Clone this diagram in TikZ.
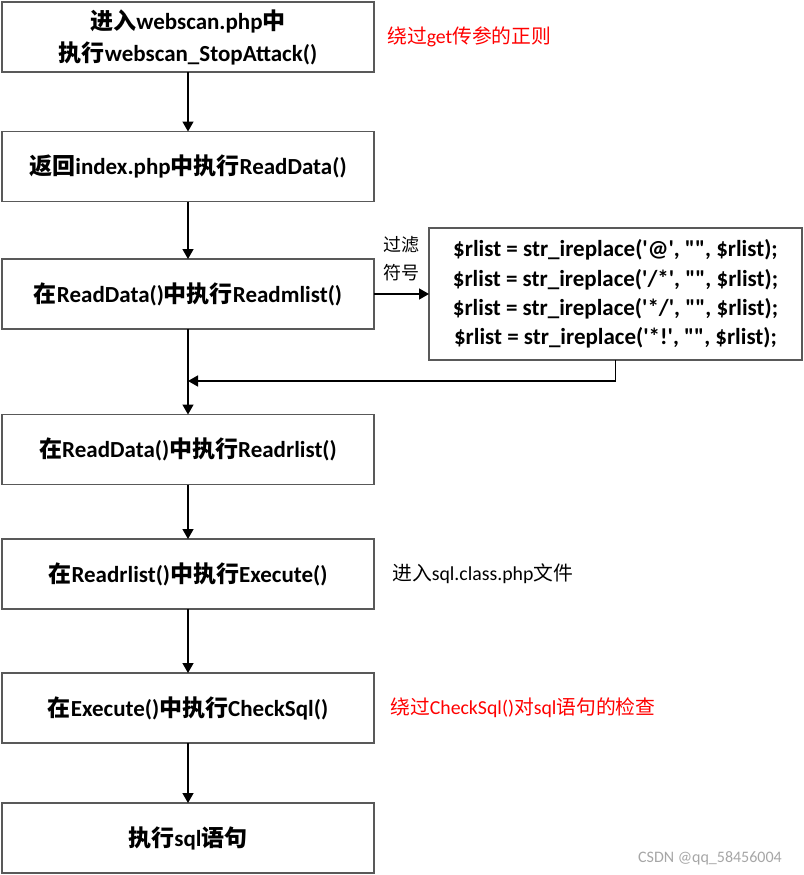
\documentclass[tikz,border=0pt]{standalone}
\usepackage{fontspec}
\setmainfont{Carlito}
\newfontfamily\zhfont{Noto Sans CJK SC}
\newfontfamily\codefont{Carlito}
\newcommand{\zh}[1]{{\zhfont #1}}
\usetikzlibrary{arrows.meta}
\definecolor{boxgray}{HTML}{595959}
\definecolor{notered}{HTML}{ff0000}

\begin{document}
\begin{tikzpicture}[x=1pt,y=-1pt,
    stepbox/.style={draw=boxgray,line width=1.2pt,minimum width=372pt,minimum height=70pt,
        inner sep=0pt,outer sep=0pt,align=center,font=\bfseries\fontsize{23}{32}\selectfont},
    codebox/.style={draw=boxgray,line width=1.2pt,minimum width=373pt,minimum height=132pt,
        inner sep=0pt,outer sep=0pt,align=center,font=\codefont\bfseries\fontsize{23}{29.3}\selectfont},
    note/.style={anchor=west,inner sep=0pt,font=\fontsize{19.8}{22}\selectfont},
    flow/.style={-{Triangle[length=10pt,width=11pt]},line width=1.4pt}]

    \useasboundingbox (0,0) rectangle (803,875);

    % main column
    \node[stepbox] (entry) at (188,37) {\zh{进入}webscan.php\zh{中}\\\zh{执行}webscan\_StopAttack()};
    \node[stepbox] (readdata) at (188,166.5) {\zh{返回}index.php\zh{中执行}ReadData()};
    \node[stepbox] (mlist) at (188,294) {\zh{在}ReadData()\zh{中执行}Readmlist()};
    \node[stepbox] (rlist) at (188,449.5) {\zh{在}ReadData()\zh{中执行}Readrlist()};
    \node[stepbox] (execute) at (188,574) {\zh{在}Readrlist()\zh{中执行}Execute()};
    \node[stepbox] (checksql) at (188,708) {\zh{在}Execute()\zh{中执行}CheckSql()};
    \node[stepbox] (runsql) at (188,838) {\zh{执行}sql\zh{语句}};

    % filter box
    \node[codebox] (filter) at (615.5,294) {%
        \$rlist = str\_ireplace('@', "", \$rlist);\\
        \$rlist = str\_ireplace('/*', "", \$rlist);\\
        \$rlist = str\_ireplace('*/', "", \$rlist);\\
        \$rlist = str\_ireplace('*!', "", \$rlist);};
    \node[align=center,inner sep=0pt,font=\zhfont\fontsize{18}{28}\selectfont] (filterlbl) at (401,259) {过滤\\符号};
    \coordinate (join) at (188,381);

    % notes
    \node[note,text=notered] (note1) at (387,37) {\zh{绕过}get\zh{传参的正则}};
    \node[note] (note2) at (392,574) {\zh{进入}sql.class.php\zh{文件}};
    \node[note,text=notered] (note3) at (390,708) {\zh{绕过}CheckSql()\zh{对}sql\zh{语句的检查}};
    \node[anchor=east,inner sep=0pt,text=black!35,font=\fontsize{16}{18}\selectfont] (wmark) at (782,858) {CSDN @qq\_58456004};

    % arrows
    \foreach \a/\b in {entry/readdata,readdata/mlist,mlist/rlist,rlist/execute,execute/checksql,checksql/runsql}
        \draw[flow] (\a) -- (\b);
    \draw[flow] (mlist) -- (filter);
    \draw[flow] (filter.south) |- (join);
\end{tikzpicture}
\end{document}
